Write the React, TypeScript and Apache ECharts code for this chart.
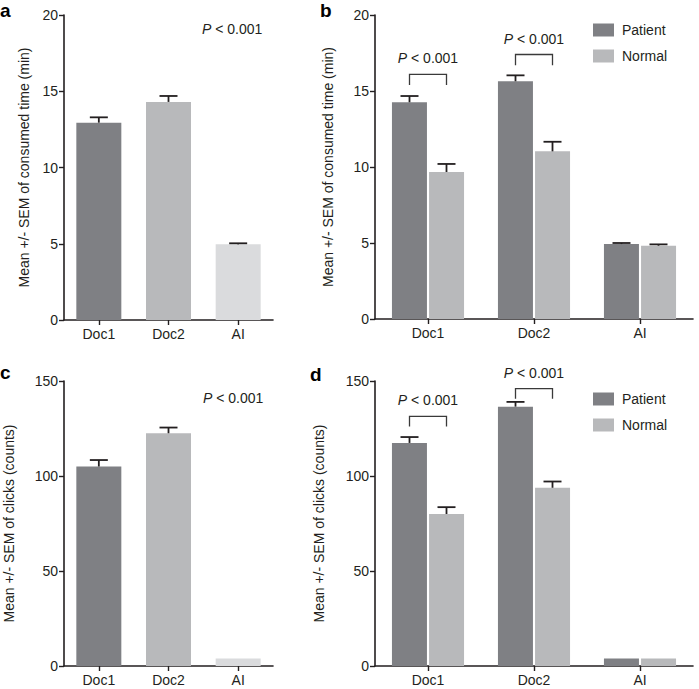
import React, { useEffect, useRef } from "react";
import * as echarts from "echarts";

const categories = ["Doc1", "Doc2", "AI"];
const groupNames = ["Patient", "Normal"];

// Panel a: consumed time overall
const timeOverallMean = [12.94, 14.3, 4.96];
const timeOverallSem = [0.35, 0.39, 0.07];
// Panel b: consumed time by group
const timePatientMean = [14.26, 15.64, 4.93];
const timePatientSem = [0.41, 0.39, 0.07];
const timeNormalMean = [9.67, 11.03, 4.82];
const timeNormalSem = [0.53, 0.63, 0.09];
// Panel c: clicks overall
const clickOverallMean = [105.0, 122.5, 4.0];
const clickOverallSem = [3.4, 3.0, 0];
// Panel d: clicks by group
const clickPatientMean = [117.4, 136.5, 4.0];
const clickPatientSem = [3.1, 2.5, 0];
const clickNormalMean = [80.0, 93.8, 4.0];
const clickNormalSem = [3.6, 3.3, 0];

// significance brackets: [category index, bracket top, leg bottom]
const timeBrackets = [
  [0, 16.1, 15.4],
  [1, 17.4, 16.7],
];
const clickBrackets = [
  [0, 131.4, 126.1],
  [1, 146.0, 140.7],
];
const pText = "< 0.001";

const timeTicks = { min: 0, max: 20, interval: 5 };
const clickTicks = { min: 0, max: 150, interval: 50 };

const FONT = "'Liberation Sans', Arial, Helvetica, sans-serif";
const INK = "#231f20";
const DARK = "#7f8084";
const MID = "#b8b9bb";
const LIGHT = "#dadbdd";

export default function App() {
  const ref = useRef<HTMLDivElement>(null);
  useEffect(() => {
    if (!ref.current) return;
    const chart = echarts.init(ref.current, undefined, { renderer: "svg" });

    const grids = [
      { left: 64, top: 15, width: 209, height: 305 },
      { left: 375, top: 15, width: 318, height: 304 },
      { left: 64, top: 381, width: 209, height: 285 },
      { left: 375, top: 381, width: 318, height: 285 },
    ];

    const yNames = [
      "Mean +/- SEM of consumed time (min)",
      "Mean +/- SEM of consumed time (min)",
      "Mean +/- SEM of clicks (counts)",
      "Mean +/- SEM of clicks (counts)",
    ];
    const yGaps = [33, 40, 48, 49];
    const yTicks = [timeTicks, timeTicks, clickTicks, clickTicks];

    const axisLine = { show: true, lineStyle: { color: INK, width: 1.6 } };
    const axisTick = { show: true, length: 5, lineStyle: { color: INK, width: 1.4 } };

    const xAxis = grids.map((_, i) => ({
      type: "category",
      gridIndex: i,
      data: categories,
      axisLine,
      axisTick: { ...axisTick, alignWithLabel: true },
      axisLabel: { fontSize: 14, color: INK, fontFamily: FONT, margin: 7 },
      splitLine: { show: false },
    }));

    const yAxis = grids.map((_, i) => ({
      type: "value",
      gridIndex: i,
      ...yTicks[i],
      axisLine,
      axisTick,
      axisLabel: { fontSize: 14, color: INK, fontFamily: FONT, margin: 6 },
      splitLine: { show: false },
      name: yNames[i],
      nameLocation: "middle",
      nameGap: yGaps[i],
      nameTextStyle: { fontSize: 14, color: INK, fontFamily: FONT },
    }));

    const errorSeries = (idx: number, means: number[], sems: number[], offset: number) => ({
      type: "custom",
      xAxisIndex: idx,
      yAxisIndex: idx,
      z: 5,
      silent: true,
      data: means.map((m, k) => [k, m, sems[k]]),
      renderItem: (params: any, api: any) => {
        const e = api.value(2);
        if (!e) return null;
        const k = api.value(0);
        const m = api.value(1);
        const base = api.coord([k, m]);
        const top = api.coord([k, m + e]);
        const cx = base[0] + offset;
        const st = { stroke: INK, lineWidth: 1.8 };
        return {
          type: "group",
          children: [
            { type: "line", shape: { x1: cx, y1: base[1], x2: cx, y2: top[1] }, style: st },
            { type: "line", shape: { x1: cx - 9, y1: top[1], x2: cx + 9, y2: top[1] }, style: st },
          ],
        };
      },
    });

    const bracketSeries = (idx: number, data: number[][]) => ({
      type: "custom",
      xAxisIndex: idx,
      yAxisIndex: idx,
      z: 6,
      silent: true,
      data,
      renderItem: (params: any, api: any) => {
        const k = api.value(0);
        const topP = api.coord([k, api.value(1)]);
        const botP = api.coord([k, api.value(2)]);
        const half = 18.5;
        const x1 = topP[0] - half;
        const x2 = topP[0] + half;
        return {
          type: "group",
          children: [
            {
              type: "polyline",
              shape: { points: [[x1, botP[1]], [x1, topP[1]], [x2, topP[1]], [x2, botP[1]]] },
              style: { stroke: "#3a3a3a", lineWidth: 1.3, fill: null },
            },
            {
              type: "text",
              style: {
                text: "{i|P} " + pText,
                x: topP[0],
                y: topP[1] - 16,
                textAlign: "center",
                textVerticalAlign: "middle",
                fill: INK,
                font: `14px ${FONT}`,
                rich: { i: { fontStyle: "italic", fontSize: 14, fontFamily: FONT, fill: INK } },
              },
            },
          ],
        };
      },
    });

    const singleColors = [DARK, MID, LIGHT];

    const series: any[] = [
      {
        type: "bar",
        xAxisIndex: 0,
        yAxisIndex: 0,
        barWidth: 45,
        data: timeOverallMean.map((v, k) => ({ value: v, itemStyle: { color: singleColors[k] } })),
      },
      errorSeries(0, timeOverallMean, timeOverallSem, 0),
      {
        type: "bar",
        name: groupNames[0],
        xAxisIndex: 1,
        yAxisIndex: 1,
        barWidth: 35,
        barGap: "6%",
        itemStyle: { color: DARK },
        data: timePatientMean,
      },
      {
        type: "bar",
        name: groupNames[1],
        xAxisIndex: 1,
        yAxisIndex: 1,
        barWidth: 35,
        barGap: "6%",
        itemStyle: { color: MID },
        data: timeNormalMean,
      },
      errorSeries(1, timePatientMean, timePatientSem, -18.5),
      errorSeries(1, timeNormalMean, timeNormalSem, 18.5),
      bracketSeries(1, timeBrackets),
      {
        type: "bar",
        xAxisIndex: 2,
        yAxisIndex: 2,
        barWidth: 45,
        data: clickOverallMean.map((v, k) => ({ value: v, itemStyle: { color: singleColors[k] } })),
      },
      errorSeries(2, clickOverallMean, clickOverallSem, 0),
      {
        type: "bar",
        name: groupNames[0],
        xAxisIndex: 3,
        yAxisIndex: 3,
        barWidth: 35,
        barGap: "6%",
        itemStyle: { color: DARK },
        data: clickPatientMean,
      },
      {
        type: "bar",
        name: groupNames[1],
        xAxisIndex: 3,
        yAxisIndex: 3,
        barWidth: 35,
        barGap: "6%",
        itemStyle: { color: MID },
        data: clickNormalMean,
      },
      errorSeries(3, clickPatientMean, clickPatientSem, -18.5),
      errorSeries(3, clickNormalMean, clickNormalSem, 18.5),
      bracketSeries(3, clickBrackets),
    ];

    const legendBase = {
      orient: "vertical",
      data: groupNames,
      icon: "rect",
      itemWidth: 21,
      itemHeight: 13,
      itemGap: 12,
      padding: 0,
      selectedMode: false,
      textStyle: { fontSize: 14, color: INK, fontFamily: FONT, padding: [0, 0, 0, 3] },
    };

    const panelLabel = (t: string, x: number, y: number) => ({
      type: "text",
      left: x,
      top: y,
      style: { text: t, font: `bold 19px ${FONT}`, fill: "#000" },
    });

    const pLabel = (x: number, y: number) => ({
      type: "text",
      left: x,
      top: y,
      style: {
        text: "{i|P} " + pText,
        font: `14px ${FONT}`,
        fill: INK,
        rich: { i: { fontStyle: "italic", fontSize: 14, fontFamily: FONT, fill: INK } },
      },
    });

    chart.setOption({
      animation: false,
      backgroundColor: "#ffffff",
      textStyle: { fontFamily: FONT },
      grid: grids,
      xAxis,
      yAxis,
      series,
      legend: [
        { ...legendBase, left: 593, top: 23 },
        { ...legendBase, left: 593, top: 392 },
      ],
      graphic: [
        panelLabel("a", 0, 1),
        panelLabel("b", 320, 1),
        panelLabel("c", 0, 363),
        panelLabel("d", 310, 365),
        pLabel(202, 22),
        pLabel(203, 391),
      ],
    });

    return () => chart.dispose();
  }, []);

  return (
    <div
      ref={ref}
      style={{ position: "fixed", left: 0, top: 0, width: 699, height: 689, background: "#fff" }}
    />
  );
}
